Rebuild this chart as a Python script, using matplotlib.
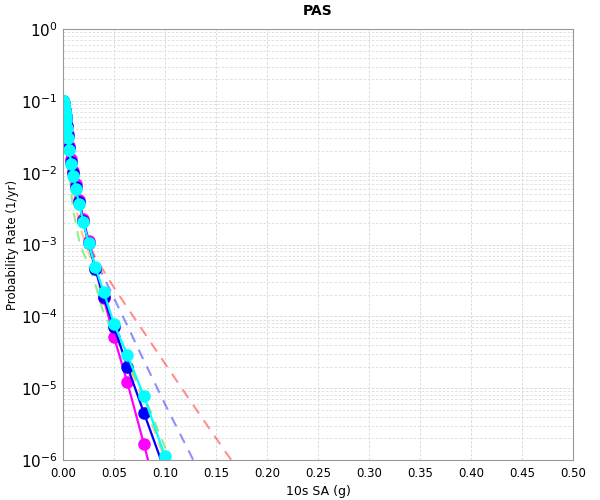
import numpy as np
import matplotlib
matplotlib.use('Agg')
import matplotlib.pyplot as plt
from matplotlib.ticker import FixedLocator, MultipleLocator, FormatStrFormatter, NullFormatter, LogFormatterMathtext

# intensity levels (g), 10 per decade
iml = [0.0001, 0.000126, 0.000158, 0.0002, 0.000251, 0.000316, 0.000398, 0.000501,
       0.000631, 0.000794, 0.001, 0.00126, 0.00158, 0.002, 0.00251, 0.00316,
       0.00398, 0.00501, 0.00631, 0.00794, 0.01, 0.0126, 0.0158, 0.02, 0.0251,
       0.0316, 0.0398, 0.0501, 0.0631, 0.0794, 0.1, 0.126, 0.158, 0.2]

# common low-intensity part (first 15 levels)
head = [0.100, 0.0995, 0.099, 0.098, 0.097, 0.096, 0.094, 0.092,
        0.090, 0.087, 0.083, 0.079, 0.074, 0.069, 0.062]

cyan_rate = head + [0.054, 0.042, 0.030, 0.0204, 0.0132, 0.0091, 0.0060, 0.0037,
                    0.00204, 0.00105, 0.00049, 0.00022, 7.8e-5, 2.9e-5, 7.7e-6,
                    1.12e-6, 1.0e-7, 5e-9, 1e-10]
blue_rate = head + [0.0545, 0.044, 0.032, 0.022, 0.0143, 0.0098, 0.0064, 0.0039,
                    0.0021, 0.00104, 0.00046, 0.000185, 7.1e-5, 2.0e-5, 4.5e-6,
                    7e-7, 3e-8, 5e-10, 1e-12]
magenta_rate = head + [0.055, 0.045, 0.034, 0.0235, 0.0153, 0.0104, 0.0069, 0.0042,
                       0.0023, 0.00112, 0.00047, 0.00018, 5.1e-5, 1.2e-5, 1.65e-6,
                       1.2e-7, 2e-9, 1e-11, 1e-13]

# dashed curves
red_rate = head + [0.054, 0.042, 0.030, 0.0204, 0.0132, 0.0091, 0.0060, 0.0037,
                   0.00204, 0.00105, 6.6e-4, 4.3e-4, 2.5e-4, 1.32e-4, 6.0e-5,
                   2.2e-5, 6.3e-6, 1.38e-6, 2.0e-7]
lblue_rate = head + [0.054, 0.042, 0.030, 0.0204, 0.0132, 0.0091, 0.0060, 0.0037,
                     0.00204, 0.00102, 6.0e-4, 3.55e-4, 1.78e-4, 7.4e-5, 2.4e-5,
                     6.0e-6, 1.12e-6, 1.26e-7, 5e-9]
green_rate = head[:14] + [0.058, 0.045, 0.030, 0.018, 0.0105, 0.0056, 0.0029, 0.0020,
                          0.00112, 7.6e-4, 5.2e-4, 2.8e-4, 1.12e-4, 5.6e-5, 2.4e-5,
                          7.9e-6, 1.5e-6, 1.6e-7, 5e-9, 1e-10]
orange_rate = head + [0.054, 0.040, 0.027, 0.0175, 0.0105, 0.0063, 0.0035, 0.0019,
                      0.00126, 7.9e-4, 3.8e-4, 1.66e-4, 6.6e-5, 2.4e-5, 6.3e-6,
                      1.0e-6, 8e-8, 2e-9, 1e-11]

y_ticks = [1e-6, 1e-5, 1e-4, 1e-3, 1e-2, 1e-1, 1e0]

fig = plt.figure(figsize=(6, 5), dpi=100)
ax = fig.add_axes([0.105, 0.08, 0.85, 0.862])

dash = dict(linestyle=(0, (5, 4)), linewidth=1.5, alpha=0.5)
ax.plot(iml, red_rate, color='#ff2020', **dash)
ax.plot(iml, lblue_rate, color='#2020ff', **dash)
ax.plot(iml, green_rate, color='#20e020', **dash)
ax.plot(iml, orange_rate, color='#ff9000', **dash)

solid = dict(linewidth=1.6, marker='o', markersize=8)
ax.plot(iml, magenta_rate, color='#ff00ff', **solid)
ax.plot(iml, blue_rate, color='#0000ff', **solid)
ax.plot(iml, cyan_rate, color='#00ffff', **solid)

ax.set_yscale('log')
ax.set_xlim(0, 0.5)
ax.set_ylim(1e-6, 1)
ax.xaxis.set_major_locator(MultipleLocator(0.05))
ax.xaxis.set_major_formatter(FormatStrFormatter('%.2f'))
ax.yaxis.set_major_locator(FixedLocator(y_ticks))
ax.yaxis.set_major_formatter(LogFormatterMathtext())
minor = [m * t for t in y_ticks[:-1] for m in range(2, 10)]
ax.yaxis.set_minor_locator(FixedLocator(minor))
ax.yaxis.set_minor_formatter(NullFormatter())

ax.grid(True, which='major', color='#d4d4d4', linestyle=(0, (3, 2)), linewidth=0.6)
ax.grid(True, which='minor', axis='y', color='#dcdcdc', linestyle=(0, (3, 2)), linewidth=0.6)
ax.set_axisbelow(True)

ax.tick_params(axis='both', which='both', length=0)
ax.tick_params(axis='x', labelsize=8.5, pad=5)
ax.tick_params(axis='y', labelsize=11, pad=4)
for s in ax.spines.values():
    s.set_color('#999999')

ax.set_xlabel('10s SA (g)', fontsize=9, labelpad=4)
ax.set_ylabel('Probability Rate (1/yr)', fontsize=8.5, labelpad=1)
ax.set_title('PAS', fontsize=10, fontweight='bold', pad=10)

fig.savefig('out.png', dpi=100)
